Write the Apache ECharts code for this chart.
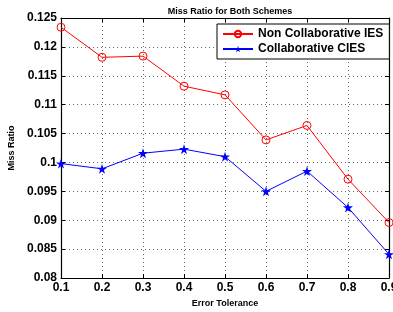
<!DOCTYPE html>
<html>
<head>
<meta charset="UTF-8">
<script src="https://cdn.jsdelivr.net/npm/echarts@6/dist/echarts.min.js"></script>
<style>
  html, body { margin: 0; padding: 0; background: #fff; }
  #chart { width: 393px; height: 312px; }
</style>
</head>
<body>
<div id="chart"></div>
<script>
  // data
  var tolerance = [0.1, 0.2, 0.3, 0.4, 0.5, 0.6, 0.7, 0.8, 0.9];
  var nonCollab = [0.1234, 0.1182, 0.1184, 0.1132, 0.1117, 0.1039, 0.1064, 0.0971, 0.0896];
  var collab = [0.0998, 0.0989, 0.1016, 0.1023, 0.1010, 0.0950, 0.0985, 0.0922, 0.0841];
  var seriesNames = ['Non Collaborative IES', 'Collaborative CIES'];

  function pairs(xs, ys) {
    return xs.map(function (x, i) { return [x, ys[i]]; });
  }

  var font = 'Liberation Sans, Arial, sans-serif';
  var chart = echarts.init(document.getElementById('chart'));

  var option = {
    animation: false,
    title: {
      text: 'Miss Ratio for Both Schemes',
      left: 225, top: 2, textAlign: 'center',
      textStyle: { fontFamily: font, fontSize: 9, fontWeight: 'bold', color: '#000' }
    },
    legend: {
      orient: 'vertical',
      left: 217, top: 24,
      padding: [4, 6, 4, 5],
      itemGap: 3,
      itemWidth: 30, itemHeight: 8,
      borderColor: '#000', borderWidth: 1,
      backgroundColor: '#fff',
      data: seriesNames,
      textStyle: { fontFamily: font, fontSize: 12, fontWeight: 'bold', color: '#000' }
    },
    grid: { left: 61, right: 4, top: 18, bottom: 34, outerBoundsMode: 'none', containLabel: false },
    xAxis: [{
      type: 'value', min: 0.1, max: 0.9, interval: 0.1,
      name: 'Error Tolerance', nameLocation: 'middle', nameGap: 20,
      nameTextStyle: { fontFamily: font, fontSize: 9, fontWeight: 'bold', color: '#000' },
      axisLine: { lineStyle: { color: '#000', width: 1.2 } },
      axisTick: { inside: true, length: 4, lineStyle: { color: '#000' } },
      axisLabel: {
        fontFamily: font, fontSize: 12, fontWeight: 'bold', color: '#000', margin: 4,
        hideOverlap: false,
        formatter: function (v) { return v.toFixed(1); }
      },
      splitLine: { show: true, lineStyle: { color: '#666', type: [1, 3], width: 1 } }
    }, {
      type: 'value', min: 0.1, max: 0.9, interval: 0.1, position: 'top',
      axisLine: { lineStyle: { color: '#000', width: 1.2 } },
      axisTick: { inside: true, length: 4, lineStyle: { color: '#000' } },
      axisLabel: { show: false }, splitLine: { show: false }
    }],
    yAxis: [{
      type: 'value', min: 0.08, max: 0.125, interval: 0.005,
      name: 'Miss Ratio', nameLocation: 'middle', nameGap: 40,
      nameTextStyle: { fontFamily: font, fontSize: 9, fontWeight: 'bold', color: '#000' },
      axisLine: { show: true, lineStyle: { color: '#000', width: 1.2 } },
      axisTick: { show: true, inside: true, length: 4, lineStyle: { color: '#000' } },
      axisLabel: {
        fontFamily: font, fontSize: 12, fontWeight: 'bold', color: '#000', margin: 4,
        formatter: function (v) { return String(parseFloat(v.toFixed(3))); }
      },
      splitLine: { show: true, lineStyle: { color: '#666', type: [1, 3], width: 1 } }
    }, {
      type: 'value', min: 0.08, max: 0.125, interval: 0.005, position: 'right',
      axisLine: { show: true, lineStyle: { color: '#000', width: 1.2 } },
      axisTick: { show: true, inside: true, length: 4, lineStyle: { color: '#000' } },
      axisLabel: { show: false }, splitLine: { show: false }
    }],
    series: [{
      name: seriesNames[0],
      type: 'line',
      data: pairs(tolerance, nonCollab),
      symbol: 'circle', symbolSize: 8,
      lineStyle: { color: '#ff0000', width: 1 },
      itemStyle: { color: 'rgba(255,255,255,0)', borderColor: '#ff0000', borderWidth: 1 }
    }, {
      name: seriesNames[1],
      type: 'line',
      data: pairs(tolerance, collab),
      symbol: 'path://M50,0 L61,35 L98,35 L68,57 L79,91 L50,70 L21,91 L32,57 L2,35 L39,35 Z',
      symbolSize: 10,
      lineStyle: { color: '#0000ff', width: 1 },
      itemStyle: { color: '#0000ff' }
    }]
  };
  chart.setOption(option);
</script>
</body>
</html>
